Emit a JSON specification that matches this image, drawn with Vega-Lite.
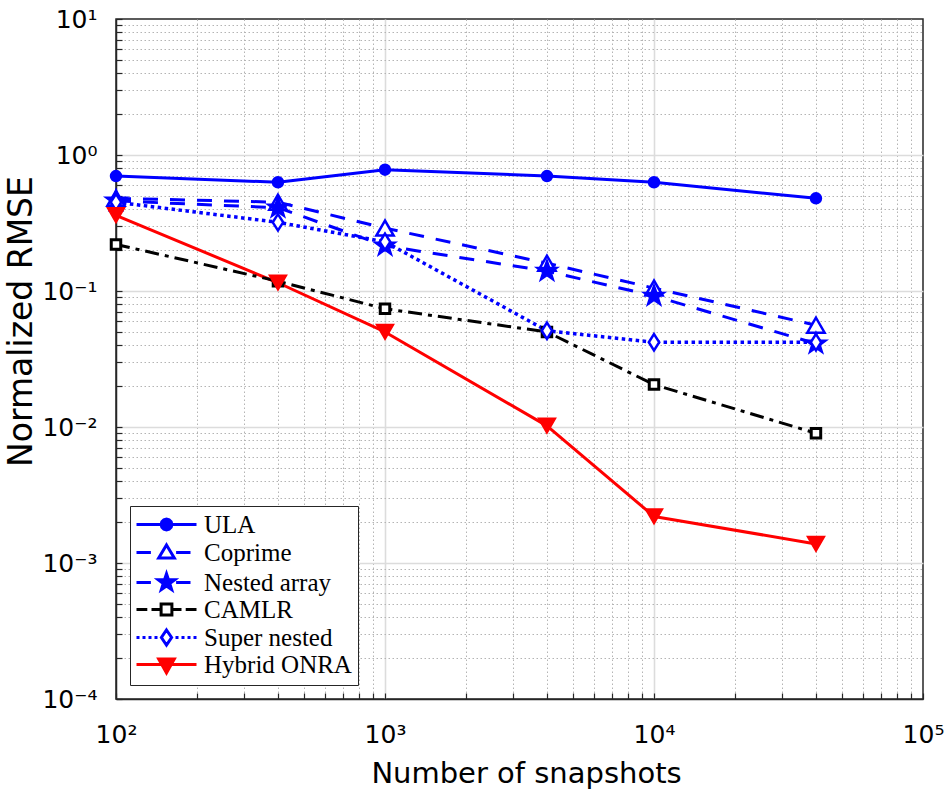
{
  "$schema": "https://vega.github.io/schema/vega-lite/v6.json",
  "width": 807,
  "height": 680,
  "autosize": {"type": "none"},
  "padding": {"left": 116, "top": 19, "right": 22, "bottom": 91},
  "background": "white",
  "config": {"view": {"stroke": "#262626", "strokeWidth": 1.5}, "font": "DejaVu Sans"},
  "data": {
    "values": [
      {"series": "ULA", "n": 100, "rmse": 0.70},
      {"series": "ULA", "n": 400, "rmse": 0.63},
      {"series": "ULA", "n": 1000, "rmse": 0.78},
      {"series": "ULA", "n": 4000, "rmse": 0.70},
      {"series": "ULA", "n": 10000, "rmse": 0.63},
      {"series": "ULA", "n": 40000, "rmse": 0.48},
      {"series": "Coprime", "n": 100, "rmse": 0.48},
      {"series": "Coprime", "n": 400, "rmse": 0.45},
      {"series": "Coprime", "n": 1000, "rmse": 0.29},
      {"series": "Coprime", "n": 4000, "rmse": 0.16},
      {"series": "Coprime", "n": 10000, "rmse": 0.105},
      {"series": "Coprime", "n": 40000, "rmse": 0.056},
      {"series": "Nested array", "n": 100, "rmse": 0.46},
      {"series": "Nested array", "n": 400, "rmse": 0.41},
      {"series": "Nested array", "n": 1000, "rmse": 0.215},
      {"series": "Nested array", "n": 4000, "rmse": 0.14},
      {"series": "Nested array", "n": 10000, "rmse": 0.092},
      {"series": "Nested array", "n": 40000, "rmse": 0.041},
      {"series": "CAMLR", "n": 100, "rmse": 0.22},
      {"series": "CAMLR", "n": 400, "rmse": 0.118},
      {"series": "CAMLR", "n": 1000, "rmse": 0.074},
      {"series": "CAMLR", "n": 4000, "rmse": 0.050},
      {"series": "CAMLR", "n": 10000, "rmse": 0.0205},
      {"series": "CAMLR", "n": 40000, "rmse": 0.009},
      {"series": "Super nested", "n": 100, "rmse": 0.45},
      {"series": "Super nested", "n": 400, "rmse": 0.32},
      {"series": "Super nested", "n": 1000, "rmse": 0.23},
      {"series": "Super nested", "n": 4000, "rmse": 0.051},
      {"series": "Super nested", "n": 10000, "rmse": 0.042},
      {"series": "Super nested", "n": 40000, "rmse": 0.042},
      {"series": "Hybrid ONRA", "n": 100, "rmse": 0.36},
      {"series": "Hybrid ONRA", "n": 400, "rmse": 0.115},
      {"series": "Hybrid ONRA", "n": 1000, "rmse": 0.050},
      {"series": "Hybrid ONRA", "n": 4000, "rmse": 0.0102},
      {"series": "Hybrid ONRA", "n": 10000, "rmse": 0.0022},
      {"series": "Hybrid ONRA", "n": 40000, "rmse": 0.00138}
    ]
  },
  "layer": [
    {
      "transform": [{"filter": "datum.series == 'ULA' || datum.series == 'Hybrid ONRA'"}],
      "mark": {"type": "line", "strokeWidth": 3, "strokeCap": "butt", "strokeJoin": "round"},
      "encoding": {
        "x": {
          "field": "n", "type": "quantitative",
          "scale": {"type": "log", "domain": [100, 100000], "nice": false},
          "axis": {
            "orient": "bottom",
            "values": [100,200,300,400,500,600,700,800,900,1000,2000,3000,4000,5000,6000,7000,8000,9000,10000,20000,30000,40000,50000,60000,70000,80000,90000,100000],
            "title": "Number of snapshots",
            "titleFont": "DejaVu Sans", "titleFontSize": 29, "titleFontWeight": "normal", "titleColor": "#000000",
            "titleX": 410, "titleY": 83, "titleBaseline": "alphabetic", "titleAlign": "center", "titleAngle": 0,
            "labelExpr": "datum.value==100?'10²':datum.value==1000?'10³':datum.value==10000?'10⁴':datum.value==100000?'10⁵':''",
            "labelFont": "DejaVu Sans", "labelFontSize": 25, "labelColor": "#000000",
            "labelPadding": 29, "labelOverlap": false, "labelFlush": false, "labelBaseline": "top", "labelAlign": "center",
            "grid": true,
            "gridColor": {"condition": {"test": "datum.value==100||datum.value==1000||datum.value==10000||datum.value==100000", "value": "#dcdcdc"}, "value": "#b4b4b4"},
            "gridDash": {"condition": {"test": "datum.value==100||datum.value==1000||datum.value==10000||datum.value==100000", "value": []}, "value": [1.5, 2.5]},
            "gridWidth": {"condition": {"test": "datum.value==100||datum.value==1000||datum.value==10000||datum.value==100000", "value": 1.6}, "value": 1},
            "gridOpacity": {"condition": {"test": "datum.value==100||datum.value==100000", "value": 0}, "value": 1},
            "ticks": true,
            "tickSize": -6,
            "tickColor": "#262626", "tickWidth": 1.2,
            "domain": true, "domainColor": "#262626", "domainWidth": 1.5
          }
        },
        "y": {
          "field": "rmse", "type": "quantitative",
          "scale": {"type": "log", "domain": [0.0001, 10], "nice": false},
          "axis": {
            "orient": "left",
            "values": [0.0001,0.0002,0.0003,0.0004,0.0005,0.0006,0.0007,0.0008,0.0009,0.001,0.002,0.003,0.004,0.005,0.006,0.007,0.008,0.009,0.01,0.02,0.03,0.04,0.05,0.06,0.07,0.08,0.09,0.1,0.2,0.3,0.4,0.5,0.6,0.7,0.8,0.9,1,2,3,4,5,6,7,8,9,10],
            "title": "Normalized RMSE",
            "titleFont": "DejaVu Sans", "titleFontSize": 33, "titleFontWeight": "normal", "titleColor": "#000000",
            "titleX": -85, "titleY": 302, "titleBaseline": "alphabetic", "titleAlign": "center", "titleAngle": 270,
            "labelExpr": "datum.value==10?'10¹':datum.value==1?'10⁰':datum.value==0.1?'10⁻¹':datum.value==0.01?'10⁻²':datum.value==0.001?'10⁻³':datum.value==0.0001?'10⁻⁴':''",
            "labelFont": "DejaVu Sans", "labelFontSize": 25, "labelColor": "#000000",
            "labelPadding": 25, "labelOverlap": false, "labelFlush": false, "labelBaseline": "middle", "labelAlign": "right",
            "grid": true,
            "gridColor": {"condition": {"test": "indexof([0.0001,0.001,0.01,0.1,1,10], datum.value) >= 0", "value": "#dcdcdc"}, "value": "#b4b4b4"},
            "gridDash": {"condition": {"test": "indexof([0.0001,0.001,0.01,0.1,1,10], datum.value) >= 0", "value": []}, "value": [1.5, 2.5]},
            "gridWidth": {"condition": {"test": "indexof([0.0001,0.001,0.01,0.1,1,10], datum.value) >= 0", "value": 1.6}, "value": 1},
            "gridOpacity": {"condition": {"test": "datum.value==10||datum.value==0.0001", "value": 0}, "value": 1},
            "ticks": true,
            "tickSize": -6,
            "tickColor": "#262626", "tickWidth": 1.2,
            "domain": true, "domainColor": "#262626", "domainWidth": 1.5
          }
        },
        "stroke": {"field": "series", "type": "nominal"}
      }
    },
    {
      "transform": [{"filter": "datum.series == 'Coprime' || datum.series == 'Nested array'"}],
      "mark": {"type": "line", "strokeWidth": 3, "strokeCap": "butt", "strokeJoin": "round", "strokeDash": [15, 12]},
      "encoding": {
        "x": {"field": "n", "type": "quantitative"},
        "y": {"field": "rmse", "type": "quantitative"},
        "stroke": {"field": "series", "type": "nominal"}
      }
    },
    {
      "transform": [{"filter": "datum.series == 'CAMLR'"}],
      "mark": {"type": "line", "strokeWidth": 3, "strokeCap": "butt", "strokeJoin": "round", "strokeDash": [14, 6, 4, 6]},
      "encoding": {
        "x": {"field": "n", "type": "quantitative"},
        "y": {"field": "rmse", "type": "quantitative"},
        "stroke": {"field": "series", "type": "nominal"}
      }
    },
    {
      "transform": [{"filter": "datum.series == 'Super nested'"}],
      "mark": {"type": "line", "strokeWidth": 3.5, "strokeCap": "butt", "strokeJoin": "round", "strokeDash": [3.5, 3.5]},
      "encoding": {
        "x": {"field": "n", "type": "quantitative"},
        "y": {"field": "rmse", "type": "quantitative"},
        "stroke": {"field": "series", "type": "nominal"}
      }
    },
    {
      "transform": [{"filter": "datum.series == 'ULA'"}],
      "mark": {"type": "point", "shape": "circle", "size": 110, "fill": "#0000ff", "stroke": "#0000ff", "strokeWidth": 2, "opacity": 1},
      "encoding": {"x": {"field": "n", "type": "quantitative"}, "y": {"field": "rmse", "type": "quantitative"}}
    },
    {
      "transform": [{"filter": "datum.series == 'Coprime'"}],
      "mark": {"type": "point", "shape": "triangle-up", "size": 300, "fill": "#ffffff", "stroke": "#0000ff", "strokeWidth": 2.5, "opacity": 1},
      "encoding": {"x": {"field": "n", "type": "quantitative"}, "y": {"field": "rmse", "type": "quantitative"}}
    },
    {
      "transform": [{"filter": "datum.series == 'Nested array'"}],
      "mark": {"type": "point", "shape": "M0,-1L0.23,-0.32L0.95,-0.31L0.37,0.12L0.59,0.81L0,0.39L-0.59,0.81L-0.37,0.12L-0.95,-0.31L-0.23,-0.32Z", "size": 520, "fill": "#0000ff", "stroke": "#0000ff", "strokeWidth": 1.5, "opacity": 1},
      "encoding": {"x": {"field": "n", "type": "quantitative"}, "y": {"field": "rmse", "type": "quantitative"}}
    },
    {
      "transform": [{"filter": "datum.series == 'CAMLR'"}],
      "mark": {"type": "point", "shape": "square", "size": 90, "fill": "#ffffff", "stroke": "#000000", "strokeWidth": 3, "opacity": 1},
      "encoding": {"x": {"field": "n", "type": "quantitative"}, "y": {"field": "rmse", "type": "quantitative"}}
    },
    {
      "transform": [{"filter": "datum.series == 'Super nested'"}],
      "mark": {"type": "point", "shape": "M0,-1.25L0.8,0L0,1.25L-0.8,0Z", "size": 170, "fill": "#ffffff", "stroke": "#0000ff", "strokeWidth": 2.5, "opacity": 1},
      "encoding": {"x": {"field": "n", "type": "quantitative"}, "y": {"field": "rmse", "type": "quantitative"}}
    },
    {
      "transform": [{"filter": "datum.series == 'Hybrid ONRA'"}],
      "mark": {"type": "point", "shape": "triangle-down", "size": 300, "fill": "#ff0000", "stroke": "#ff0000", "strokeWidth": 1.5, "opacity": 1},
      "encoding": {"x": {"field": "n", "type": "quantitative"}, "y": {"field": "rmse", "type": "quantitative"}}
    },
    {
      "mark": {"type": "point", "size": 144, "strokeWidth": 3, "opacity": 1, "clip": true, "yOffset": 3000},
      "encoding": {
        "x": {"field": "n", "type": "quantitative"},
        "y": {"field": "rmse", "type": "quantitative"},
        "stroke": {
          "field": "series", "type": "nominal",
          "scale": {
            "domain": ["ULA", "Coprime", "Nested array", "CAMLR", "Super nested", "Hybrid ONRA"],
            "range": ["#0000ff", "#0000ff", "#0000ff", "#000000", "#0000ff", "#ff0000"]
          }
        },
        "fill": {
          "field": "series", "type": "nominal",
          "scale": {
            "domain": ["ULA", "Coprime", "Nested array", "CAMLR", "Super nested", "Hybrid ONRA"],
            "range": ["#0000ff", "#ffffff", "#0000ff", "#ffffff", "#ffffff", "#ff0000"]
          }
        },
        "shape": {
          "field": "series", "type": "nominal",
          "scale": {
            "domain": ["ULA", "Coprime", "Nested array", "CAMLR", "Super nested", "Hybrid ONRA"],
            "range": [
              "M-1,0H9M4.9,0L4.78,0.45L4.45,0.78L4,0.9L3.55,0.78L3.22,0.45L3.1,0L3.22,-0.45L3.55,-0.78L4,-0.9L4.45,-0.78L4.78,-0.45Z",
              "M-1,0H1.4M5.6,0H8M4,-1.25L5.3,0.9L2.7,0.9Z",
              "M-1,0H1.4M5.6,0H8M4,-1.45L4.33,-0.46L5.38,-0.45L4.54,0.17L4.85,1.17L4,0.57L3.15,1.17L3.46,0.17L2.62,-0.45L3.67,-0.46Z",
              "M-1,0H0.8M1.5,0H2.9M5.1,0H6.5M7.2,0H9M3.1,-0.9H4.9V0.9H3.1Z",
              "M-1,0H-0.5M0,0H0.5M1,0H1.5M2,0H2.5M5.5,0H6M6.5,0H7M7.5,0H8M8.5,0H9M4,-1.25L4.85,0L4,1.25L3.15,0Z",
              "M-1,0H9M2.7,-0.9H5.3L4,1.4Z"
            ]
          },
          "legend": {
            "title": null,
            "orient": "bottom-left",
            "offset": 14,
            "padding": 6,
            "strokeColor": "#262626",
            "fillColor": "#ffffff",
            "cornerRadius": 0,
            "symbolSize": 144,
            "symbolStrokeWidth": 3,
            "symbolOpacity": 1,
            "symbolOffset": -6,
            "labelFont": "Liberation Serif",
            "labelFontSize": 25,
            "labelColor": "#000000",
            "labelOffset": 49,
            "labelLimit": 400,
            "rowPadding": 1
          }
        }
      }
    }
  ]
}
